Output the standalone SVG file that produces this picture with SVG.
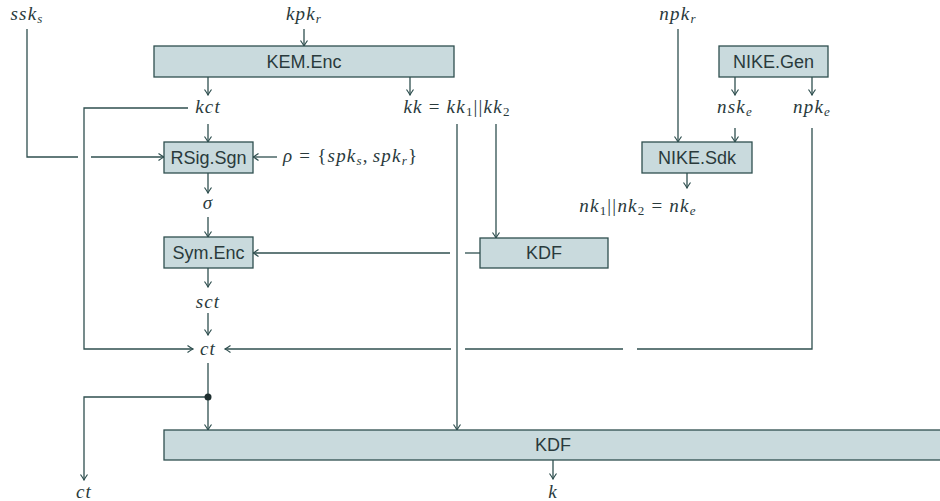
<svg xmlns="http://www.w3.org/2000/svg" width="940" height="501" viewBox="0 0 940 501">
<style>
.box{fill:#c9dadd;stroke:#2f4f4f;stroke-width:1.3}
.bl{font-family:"Liberation Sans","DejaVu Sans",sans-serif;font-size:18px;fill:#2a3a3c;text-anchor:middle}
.m{font-family:"Liberation Serif","DejaVu Serif",serif;font-size:19px;fill:#2a3a3c;font-style:italic;letter-spacing:1.2px}
.c{text-anchor:middle}
.u{font-style:normal}
.s{font-size:13px}
.ln{fill:none;stroke:#2f4f4f;stroke-width:1.3}
.a{marker-end:url(#arr)}
</style>
<defs>
<marker id="arr" markerUnits="userSpaceOnUse" viewBox="-7 -5 8 10" refX="0" refY="0" markerWidth="8" markerHeight="10" orient="auto">
<path d="M-5.5,-3.5 Q-2,-1 0,0 Q-2,1 -5.5,3.5" fill="none" stroke="#2f4f4f" stroke-width="1.2"/>
</marker>
</defs>
<rect width="940" height="501" fill="#fff"/>

<g id="connectors">
<polyline class="ln" points="27,29 27,157 78,157"/>
<line class="ln a" x1="91" y1="157" x2="164" y2="157"/>
<line class="ln a" x1="304" y1="29" x2="304" y2="46"/>
<line class="ln a" x1="208" y1="77" x2="208" y2="95"/>
<line class="ln a" x1="410" y1="77" x2="410" y2="95"/>
<polyline class="ln a" points="188,108 84,108 84,349 193,349"/>
<line class="ln a" x1="208" y1="124" x2="208" y2="142"/>
<line class="ln a" x1="277" y1="157" x2="253" y2="157"/>
<line class="ln a" x1="208" y1="173" x2="208" y2="193"/>
<line class="ln a" x1="208" y1="217" x2="208" y2="237"/>
<line class="ln a" x1="457" y1="124" x2="457" y2="430"/>
<line class="ln a" x1="496" y1="124" x2="496" y2="238"/>
<line class="ln" x1="480" y1="253" x2="465" y2="253"/>
<line class="ln a" x1="450" y1="253" x2="253" y2="253"/>
<line class="ln a" x1="208" y1="268" x2="208" y2="287"/>
<line class="ln a" x1="208" y1="313" x2="208" y2="335"/>
<polyline class="ln" points="812,128 812,349 637,349"/>
<line class="ln" x1="623" y1="349" x2="465" y2="349"/>
<line class="ln a" x1="451" y1="349" x2="225" y2="349"/>
<line class="ln a" x1="208" y1="363" x2="208" y2="430"/>
<polyline class="ln a" points="208,397 84,397 84,480"/>
<circle cx="208" cy="397" r="3.5" fill="#1f2f30"/>
<line class="ln a" x1="553" y1="460" x2="553" y2="479"/>
<line class="ln a" x1="678" y1="29" x2="678" y2="142"/>
<line class="ln a" x1="735" y1="77" x2="735" y2="95"/>
<line class="ln a" x1="812" y1="77" x2="812" y2="95"/>
<line class="ln a" x1="735" y1="128" x2="735" y2="142"/>
<line class="ln a" x1="687" y1="173" x2="687" y2="188"/>
</g>

<g id="kemenc"><rect class="box" x="154" y="46" width="300" height="31"/><text class="bl" x="304" y="68">KEM.Enc</text></g>
<g id="rsigsgn"><rect class="box" x="164" y="142" width="89" height="31"/><text class="bl" x="208.5" y="164">RSig.Sgn</text></g>
<g id="symenc"><rect class="box" x="164" y="237" width="89" height="31"/><text class="bl" x="208.5" y="259">Sym.Enc</text></g>
<g id="kdf1"><rect class="box" x="480" y="238" width="128" height="30"/><text class="bl" x="544" y="259">KDF</text></g>
<g id="nikegen"><rect class="box" x="719" y="46" width="109" height="31"/><text class="bl" x="773.5" y="68">NIKE.Gen</text></g>
<g id="nikesdk"><rect class="box" x="642" y="142" width="110" height="31"/><text class="bl" x="697" y="164">NIKE.Sdk</text></g>
<g id="kdf2"><rect class="box" x="164" y="430" width="780" height="30"/><text class="bl" x="553" y="451">KDF</text></g>

<g id="labels">
<text class="m c" x="27" y="20">ssk<tspan class="s" dy="3">s</tspan></text>
<text class="m c" x="304" y="20">kpk<tspan class="s" dy="3">r</tspan></text>
<text class="m c" x="678" y="20">npk<tspan class="s" dy="3">r</tspan></text>
<text class="m c" x="208" y="113">kct</text>
<text class="m c" x="457" y="113">kk<tspan class="u" dx="6">=</tspan><tspan dx="6">kk</tspan><tspan class="s u" dy="3">1</tspan><tspan class="u" dy="-3">||</tspan>kk<tspan class="s u" dy="3">2</tspan></text>
<text class="m c" x="735" y="113">nsk<tspan class="s" dy="3">e</tspan></text>
<text class="m c" x="812" y="113">npk<tspan class="s" dy="3">e</tspan></text>
<text class="m" x="283" y="162">ρ<tspan class="u" dx="6">=</tspan><tspan class="u" dx="6">{</tspan>spk<tspan class="s" dy="3">s</tspan><tspan class="u" dy="-3">,</tspan><tspan dx="4">spk</tspan><tspan class="s" dy="3">r</tspan><tspan class="u" dy="-3">}</tspan></text>
<text class="m c" x="208" y="209">σ</text>
<text class="m c" x="638" y="212">nk<tspan class="s u" dy="3">1</tspan><tspan class="u" dy="-3">||</tspan>nk<tspan class="s u" dy="3">2</tspan><tspan class="u" dy="-3" dx="6">=</tspan><tspan dx="6">nk</tspan><tspan class="s" dy="3">e</tspan></text>
<text class="m c" x="208" y="308">sct</text>
<text class="m c" x="208" y="355">ct</text>
<text class="m c" x="84" y="498">ct</text>
<text class="m c" x="553" y="498">k</text>
</g>
</svg>
